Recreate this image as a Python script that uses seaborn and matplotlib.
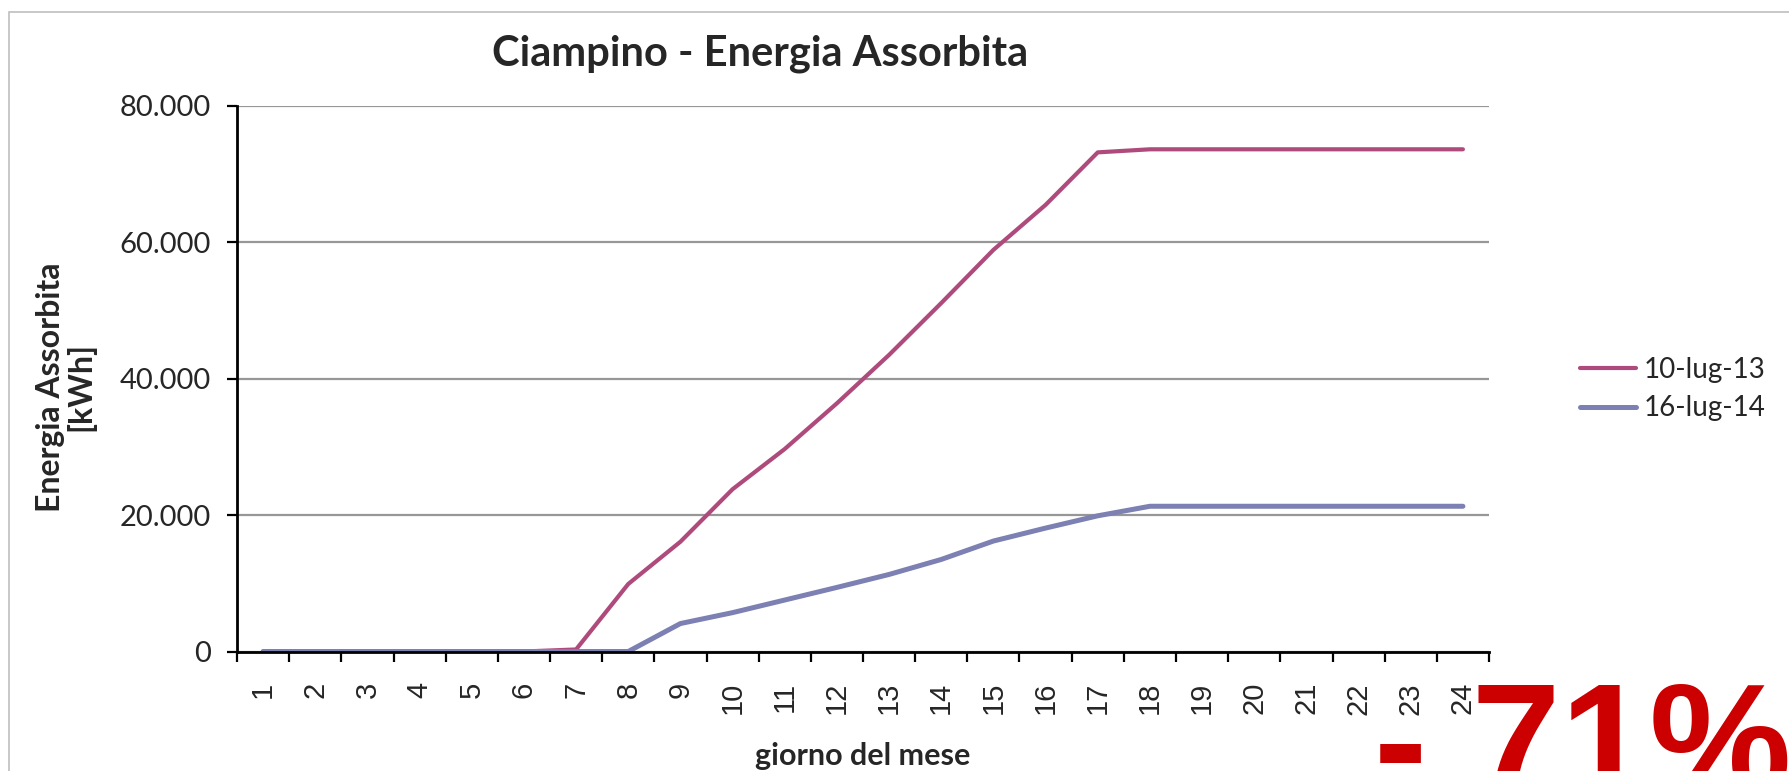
import seaborn as sns
import pandas as pd
import matplotlib.pyplot as plt
import matplotlib.ticker as mticker
from matplotlib.patches import Rectangle

# giorni del mese (categorie asse x)
giorni = list(range(1, 25))

# energia assorbita cumulata [kWh]
energia_2013 = [0, 0, 0, 0, 0, 0, 300, 9900, 16100, 23800, 29700, 36400,
                43500, 51100, 58900, 65500, 73200, 73650, 73650, 73650,
                73650, 73650, 73650, 73650]
energia_2014 = [0, 0, 0, 0, 0, 0, 0, 0, 4100, 5700, 7550, 9400,
                11300, 13500, 16200, 18100, 19900, 21300, 21300, 21300,
                21300, 21300, 21300, 21300]

serie = ["10-lug-13", "16-lug-14"]
colori = {"10-lug-13": "#AF4B7C", "16-lug-14": "#7D80B2"}
spessori = {"10-lug-13": 3.0, "16-lug-14": 3.6}
riduzione = "- 71%"

df = pd.DataFrame({
    "giorno": giorni * 2,
    "energia": energia_2013 + energia_2014,
    "serie": [serie[0]] * 24 + [serie[1]] * 24,
})

sns.set_theme(style="white")
plt.rcParams['font.family'] = ['Lato', 'DejaVu Sans']

fig, ax = plt.subplots(figsize=(17.89, 7.71), dpi=100)
fig.subplots_adjust(left=237 / 1789, right=1489 / 1789,
                    top=1 - 106 / 771, bottom=1 - 651.5 / 771)

for s in serie:
    sns.lineplot(data=df[df["serie"] == s], x="giorno", y="energia",
                 color=colori[s], linewidth=spessori[s], label=s, ax=ax)

ax.set_xlim(0.5, 24.5)
ax.set_ylim(0, 80000)
ax.set_yticks([0, 20000, 40000, 60000, 80000])
ax.yaxis.set_major_formatter(mticker.FuncFormatter(
    lambda v, p: f"{int(v):,}".replace(",", ".")))
ax.yaxis.grid(True, color="#979797", linewidth=1.6)
ax.set_axisbelow(True)

ax.set_xticks(giorni)
ax.set_xticklabels([str(g) for g in giorni], rotation=90,
                   fontfamily="Liberation Sans", fontsize=21)
ax.set_xticks([g - 0.5 for g in giorni] + [24.5], minor=True)
ax.tick_params(axis="x", which="major", length=0, pad=22)
ax.tick_params(axis="x", which="minor", bottom=True, length=7.5,
               width=1.6, color="black", direction="out")
ax.tick_params(axis="y", left=True, length=7, width=1.6, color="black",
               direction="out", labelsize=21, pad=12)

for sp in ["top", "right"]:
    ax.spines[sp].set_visible(False)
for sp in ["left", "bottom"]:
    ax.spines[sp].set_color("black")
    ax.spines[sp].set_linewidth(2)

ax.set_xlabel("giorno del mese", fontsize=22, fontweight="bold", va="top")
ax.xaxis.set_label_coords(0.5, -0.165)
ax.set_ylabel("Energia Assorbita\n[kWh]", fontsize=23, fontweight="bold",
              va="center", linespacing=1.0)
ax.yaxis.set_label_coords(-0.1366, 0.485)

fig.text(0.425, 0.930, "Ciampino - Energia Assorbita", ha="center",
         va="center", fontsize=30, fontweight="bold")

ax.legend(loc="center left", bbox_to_anchor=(1580 / 1789, 1 - 389 / 771),
          bbox_transform=fig.transFigure, frameon=False, fontsize=20,
          handlelength=2.0, handletextpad=0.3, borderpad=0,
          borderaxespad=0, labelspacing=0.45)

fig.text(1374 / 1789, 1 - 795 / 771, riduzione, color="#CC0000",
         fontsize=115, fontweight="bold", fontfamily="Liberation Sans",
         ha="left", va="baseline")

fig.add_artist(Rectangle((9 / 1789, -0.05), 2, 1.05 + 1 - 12 / 771 - 1,
                         transform=fig.transFigure, fill=False,
                         edgecolor="#BFBFBF", linewidth=1.2))

fig.savefig("out.png", dpi=100)
